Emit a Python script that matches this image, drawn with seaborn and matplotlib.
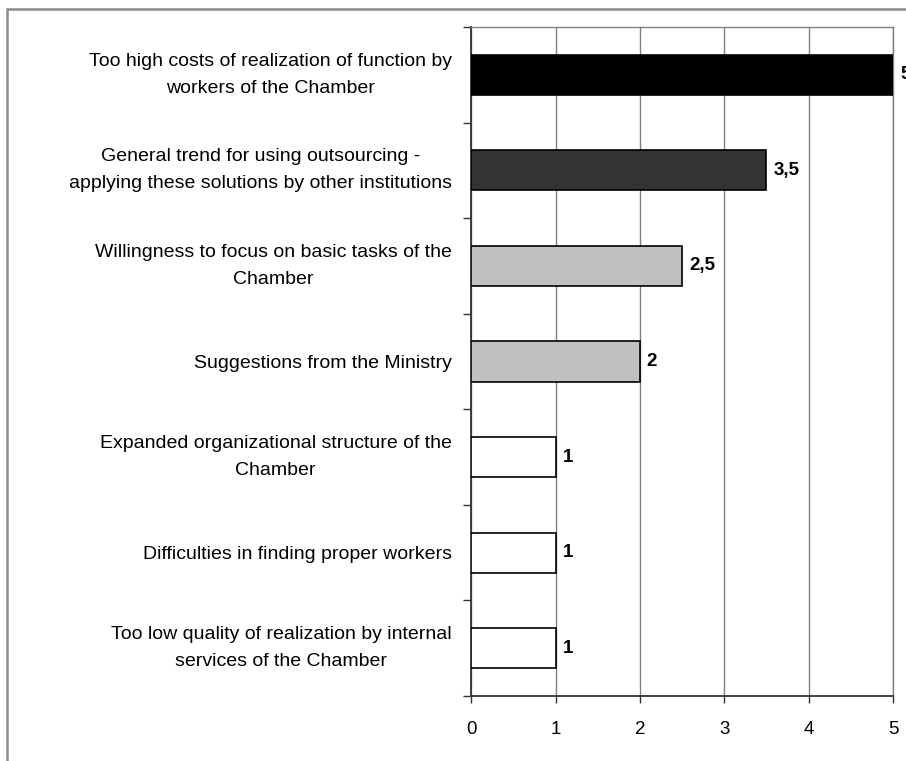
import matplotlib
matplotlib.use("Agg")
import matplotlib.pyplot as plt
from matplotlib.patches import Rectangle
import seaborn as sns
import pandas as pd

# Reasons for outsourcing, top to bottom
reasons = [
    "Too high costs of realization of function by\nworkers of the Chamber",
    "General trend for using outsourcing -\napplying these solutions by other institutions",
    "Willingness to focus on basic tasks of the\nChamber",
    "Suggestions from the Ministry",
    "Expanded organizational structure of the\nChamber",
    "Difficulties in finding proper workers",
    "Too low quality of realization by internal\nservices of the Chamber",
]
scores = [5, 3.5, 2.5, 2, 1, 1, 1]
bar_colors = ["#000000", "#333333", "#c0c0c0", "#c0c0c0", "#ffffff", "#ffffff", "#ffffff"]
x_ticks = [0, 1, 2, 3, 4, 5]

df = pd.DataFrame({"reason": reasons, "score": scores})

sns.set_theme(style="white")
plt.rcParams["font.family"] = ["Liberation Sans", "DejaVu Sans"]
plt.rcParams["text.color"] = "black"
plt.rcParams["xtick.color"] = "black"
plt.rcParams["ytick.color"] = "black"

fig = plt.figure(figsize=(9.06, 7.61), dpi=100)
ax = fig.add_axes([0.520, 0.0854, 0.4657, 0.8791])

sns.barplot(data=df, y="reason", x="score", hue="reason", palette=bar_colors,
            order=reasons, hue_order=reasons, orient="h", width=0.42,
            edgecolor="black", linewidth=1.2, legend=False, ax=ax, zorder=3)

ax.set_xlim(0, 5)
ax.set_ylim(6.5, -0.5)
ax.set_xticks(x_ticks)
ax.set_xticklabels([str(t) for t in x_ticks], fontsize=13.5)
ax.xaxis.grid(True, color="#808080", linewidth=1.0, zorder=0)
ax.set_axisbelow(True)

# Category ticks sit on the boundaries between bars; labels sit at the centres
n = len(reasons)
ax.set_yticks([i - 0.5 for i in range(n + 1)])
ax.set_yticklabels([])
ax.tick_params(axis="y", which="major", length=6, width=1, color="#333333", left=True)
ax.tick_params(axis="x", length=5, width=1, color="#333333", bottom=True, pad=13)
ax.set_xlabel("")
ax.set_ylabel("")

for i, name in enumerate(reasons):
    dy = 0 if "\n" in name else -1.5
    ax.annotate(name, xy=(0, i), xytext=(-14, dy), textcoords="offset points",
                ha="right", va="center", multialignment="center",
                fontsize=14, linespacing=1.75, annotation_clip=False)

for side in ("left", "bottom"):
    ax.spines[side].set_color("#333333")
    ax.spines[side].set_linewidth(1.3)
for side in ("top", "right"):
    ax.spines[side].set_color("#808080")
    ax.spines[side].set_linewidth(1.0)

# Value labels to the right of each bar
for i, v in enumerate(scores):
    txt = f"{v:g}".replace(".", ",")
    ax.annotate(txt, xy=(v, i), xytext=(5, 0), textcoords="offset points",
                va="center", ha="left", fontsize=13.5, fontweight="bold",
                annotation_clip=False, zorder=5)

# Outer frame of the chart area
fig.patches.append(Rectangle((7 / 906, -0.05), 1.2, 1 - 9 / 761 + 0.05,
                             transform=fig.transFigure, fill=False,
                             edgecolor="#8c8c8c", linewidth=1.8))

fig.savefig("out.png", dpi=100)
